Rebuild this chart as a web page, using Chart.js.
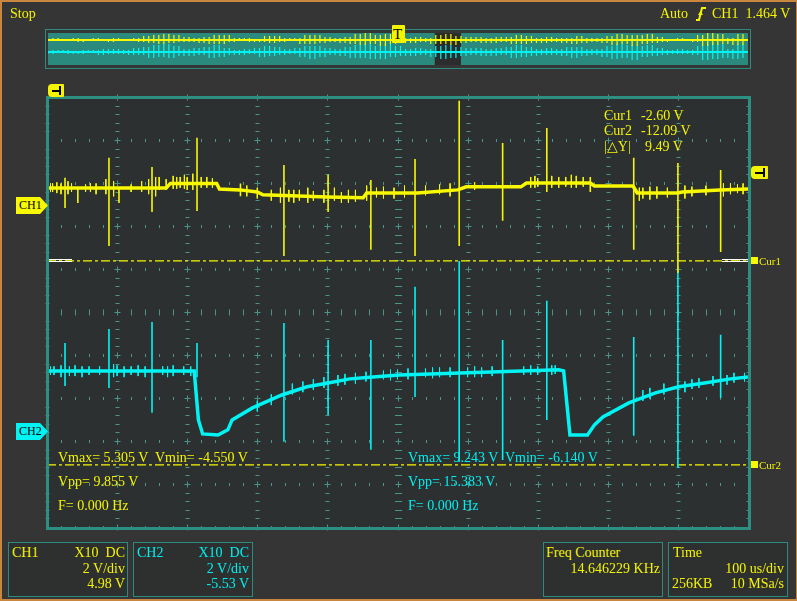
<!DOCTYPE html>
<html>
<head>
<meta charset="utf-8">
<title>Scope capture</title>
<script src="https://cdn.jsdelivr.net/npm/chart.js@4.4.0/dist/chart.umd.min.js"></script>
<style>
    body { margin: 0; background: #353535; }
    #scope { position: relative; width: 797px; height: 601px; overflow: hidden; background: #353535; }
    #scope canvas { position: absolute; }
    .t { position: absolute; font-family: "Liberation Serif", "Times New Roman", serif; font-size: 14px;
         line-height: 16px; white-space: pre; color: #f4f400; }
    .c { color: #00f0f0; }
    .r { text-align: right; }
    .box { position: absolute; border: 1px solid #2c8a7e; box-sizing: border-box; background: #2e3030; }
    .frame { position: absolute; left: 0; top: 0; width: 797px; height: 601px; box-sizing: border-box;
             border: 2px solid #c9863e; border-right-width: 1px; pointer-events: none; }
    .tag { position: absolute; height: 17px; line-height: 17px; font-family: "Liberation Serif", serif;
           font-size: 12px; color: #000; padding-left: 3px; box-sizing: border-box;
           clip-path: polygon(0 0, 75% 0, 100% 50%, 75% 100%, 0 100%); }
    .flag { position: absolute; background: #f4f400; border-radius: 4px 1px 1px 4px; }
</style>
</head>
<body>
<div id="scope">
    <div class="box" style="left:45px;top:29px;width:706px;height:40px;background:#353535;"></div>
    <canvas id="overview" width="700" height="32" style="left:48px;top:33px;background:#2a8a7d;"></canvas>
    <canvas id="main" width="797" height="601" style="left:0;top:0;"></canvas>

    <div class="t" style="left:10px;top:6px;">Stop</div>
    <div class="t" style="left:660px;top:6px;">Auto</div>
    <svg style="position:absolute;left:695px;top:6px;" width="12" height="16" viewBox="0 0 12 16">
        <path d="M1 14 H4 L7 2 H11" stroke="#f4f400" stroke-width="2" fill="none"/>
        <path d="M3 9 L5.5 5 L8 9 Z" fill="#f4f400"/>
    </svg>
    <div class="t" style="left:712px;top:6px;">CH1  1.464 V</div>

    <!-- T marker over the overview strip -->
    <div class="flag" style="left:392px;top:25px;width:13px;height:18px;border-radius:1px;"></div>
    <div class="t" style="left:393px;top:26px;color:#000;font-size:15px;">T</div>

    <div id="overlay"></div>

    <div class="box" style="left:8px;top:542px;width:120px;height:55px;"></div>
    <div class="box" style="left:133px;top:542px;width:120px;height:55px;"></div>
    <div class="box" style="left:543px;top:542px;width:120px;height:55px;"></div>
    <div class="box" style="left:668px;top:542px;width:120px;height:55px;"></div>

    <div class="t" style="left:12px;top:545px;">CH1</div>
    <div class="t r" style="left:40px;width:85px;top:545px;">X10  DC</div>
    <div class="t r" style="left:40px;width:85px;top:561px;">2 V/div</div>
    <div class="t r" style="left:40px;width:85px;top:576px;">4.98 V</div>

    <div class="t c" style="left:137px;top:545px;">CH2</div>
    <div class="t c r" style="left:160px;width:89px;top:545px;">X10  DC</div>
    <div class="t c r" style="left:160px;width:89px;top:561px;">2 V/div</div>
    <div class="t c r" style="left:160px;width:89px;top:576px;">-5.53 V</div>

    <div class="t" style="left:546px;top:545px;">Freq Counter</div>
    <div class="t r" style="left:550px;width:110px;top:561px;">14.646229 KHz</div>

    <div class="t" style="left:673px;top:545px;">Time</div>
    <div class="t r" style="left:680px;width:104px;top:561px;">100 us/div</div>
    <div class="t" style="left:672px;top:576px;">256KB</div>
    <div class="t r" style="left:700px;width:84px;top:576px;">10 MSa/s</div>

    <div class="frame"></div>
</div>

<script>
// volts per division and channel ground offsets (screen volts)
const voltsPerDiv = 2;
const ch1Offset = 4.98;
const ch2Offset = -5.53;
const triggerLevel = 1.464;          // CH1 volts
const cursorLevels = [-2.60, -12.09]; // CH1 volts
const cursorNames = ['Cur1', 'Cur2'];

// time axis (us) and screen volts
const timeTicks = [0, 100, 200, 300, 400, 500, 600, 700, 800, 900, 1000];
const voltTicks = [-10, -8, -6, -4, -2, 0, 2, 4, 6, 8, 10];

// CH1 baseline [t us, V]
const ch1Base = [
    [0, 0.79], [170, 0.79], [176, 1.0], [242, 1.0], [246, 0.74], [275, 0.70], [300, 0.60],
    [308, 0.47], [400, 0.37], [451, 0.33], [456, 0.56], [528, 0.56], [586, 0.70], [598, 0.84],
    [676, 0.84], [684, 1.02], [775, 1.02], [781, 0.88], [836, 0.88], [842, 0.56], [900, 0.56],
    [906, 0.60], [960, 0.70], [1000, 0.74]
];
// CH1 spikes [t us, top V, bottom V]
const ch1Spikes = [
    [25.7, 1.26, -0.14], [44, 0.8, 0.09], [88.4, 2.19, -1.91], [102.7, 0.8, 0.09], [149.8, 1.77, -0.33],
    [214, 3.12, -0.28], [276, 1.0, 0.4], [338, 1.86, -2.37], [401, 1.40, -0.33], [462, 1.16, -2.09],
    [525, 2.14, -2.37], [588, 4.84, -1.91], [650, 2.88, -0.74], [713, 3.58, 0.60], [775, 1.3, 0.6],
    [837, 2.19, -2.09], [900, 1.95, -3.16], [961, 1.63, -2.19]
];
// CH1 small ripple hairs [t us, top V, bottom V]
const ch1Ripple = [
    [5, 1.0, 0.6], [8, 1.0, 0.6], [14, 1.05, 0.55], [20, 1.0, 0.5], [30, 1.1, 0.5], [35, 1.0, 0.6],
    [55, 0.95, 0.6], [62, 1.0, 0.6], [70, 1.0, 0.5], [84, 1.2, 0.5], [95, 1.1, 0.4], [120, 0.95, 0.6],
    [135, 1.1, 0.6], [145, 1.2, 0.5], [155, 1.3, 0.4], [160, 1.3, 0.7], [170, 1.2, 0.7], [180, 1.35, 0.75],
    [185, 1.3, 0.75], [190, 1.3, 0.8], [196, 1.4, 0.75], [200, 1.3, 0.7], [208, 1.45, 0.7], [220, 1.3, 0.8],
    [228, 1.3, 0.8], [236, 1.25, 0.8], [285, 0.9, 0.4], [300, 0.8, 0.3], [320, 0.7, 0.2], [333, 0.8, 0.1],
    [345, 0.7, 0.15], [352, 0.7, 0.1], [360, 0.7, 0.2], [372, 0.8, 0.1], [380, 0.65, 0.2], [395, 0.7, 0.1],
    [410, 0.8, 0.2], [420, 0.6, 0.1], [430, 0.7, 0.1], [440, 0.7, 0.15], [456, 0.9, 0.2], [470, 0.8, 0.35],
    [480, 0.85, 0.3], [495, 0.8, 0.3], [510, 0.9, 0.35], [540, 0.9, 0.45], [560, 0.95, 0.5], [575, 1.0, 0.4],
    [610, 1.05, 0.7], [690, 1.3, 0.8], [696, 1.35, 0.8], [700, 1.25, 0.85], [720, 1.35, 0.8], [730, 1.3, 0.8],
    [740, 1.3, 0.85], [748, 1.4, 0.8], [755, 1.35, 0.8], [765, 1.3, 0.85], [845, 0.8, 0.2], [850, 0.8, 0.3],
    [860, 0.85, 0.25], [870, 0.85, 0.3], [885, 0.8, 0.35], [910, 0.9, 0.3], [920, 0.85, 0.4], [940, 0.9, 0.45],
    [965, 1.0, 0.4], [975, 1.0, 0.5], [985, 0.95, 0.55], [993, 1.0, 0.5]
];

// CH2 baseline [t us, V]
const ch2Base = [
    [0, 2.79], [210, 2.79], [216, 0.51], [222, -0.14], [244, -0.19], [258, 0.05], [264, 0.51],
    [293, 1.07], [335, 1.67], [371, 2.05], [401, 2.23], [432, 2.42], [465, 2.51], [503, 2.60],
    [600, 2.70], [730, 2.84], [737, 2.79], [746, -0.19], [771, -0.19], [781, 0.28], [793, 0.65],
    [830, 1.30], [868, 1.77], [901, 2.05], [938, 2.23], [975, 2.42], [1000, 2.51]
];
// CH2 spikes [t us, top V, bottom V]
const ch2Spikes = [
    [25.7, 4.09, 2.09], [88.4, 4.74, 2.0], [149.8, 5.07, 0.84], [214, 4.09, 2.5], [338, 5.02, -0.51],
    [401, 4.23, 0.74], [462, 4.23, -0.88], [525, 6.70, 1.58], [588, 7.90, -1.44], [650, 4.23, -1.35],
    [713, 6.05, 0.51], [837, 4.37, -0.23], [900, 7.40, -1.72], [961, 4.47, 1.53]
];
const ch2Ripple = [
    [5, 3.0, 2.6], [10, 3.0, 2.6], [20, 3.05, 2.5], [32, 3.0, 2.55], [40, 3.05, 2.55], [50, 3.0, 2.5],
    [60, 3.0, 2.6], [75, 3.0, 2.6], [95, 3.1, 2.5], [100, 3.05, 2.55], [110, 3.0, 2.5], [120, 3.0, 2.6],
    [130, 3.05, 2.55], [140, 3.0, 2.5], [165, 3.0, 2.6], [172, 3.0, 2.5], [180, 3.05, 2.55], [195, 3.0, 2.6],
    [205, 3.0, 2.55], [300, 1.4, 0.9], [320, 1.7, 1.2], [350, 2.2, 1.7], [365, 2.3, 1.8], [380, 2.4, 1.9],
    [395, 2.5, 2.0], [415, 2.6, 2.1], [425, 2.65, 2.15], [440, 2.7, 2.2], [455, 2.75, 2.3], [480, 2.8, 2.4],
    [490, 2.85, 2.35], [500, 2.85, 2.4], [515, 2.9, 2.4], [540, 2.9, 2.5], [550, 2.95, 2.45], [560, 2.95, 2.5],
    [575, 2.95, 2.5], [600, 2.95, 2.5], [610, 3.0, 2.5], [620, 2.95, 2.5], [635, 3.0, 2.55], [680, 3.0, 2.6],
    [690, 3.05, 2.6], [700, 3.0, 2.6], [720, 3.05, 2.6], [725, 3.05, 2.65], [850, 1.9, 1.4], [860, 2.0, 1.5],
    [880, 2.2, 1.7], [910, 2.3, 1.8], [920, 2.4, 1.95], [930, 2.45, 2.0], [950, 2.55, 2.1], [970, 2.6, 2.15],
    [980, 2.7, 2.25], [995, 2.7, 2.3]
];

// overview strip: signed sample deviations per memory bin
const ovCh1 = [
    1,-1,2,-1,1,-1,2,-2,1,-1, 2,-1,1,-2,2,-1,1,-1,2,-2, 4,-3,5,-4,6,-3,5,-2,3,-2,
    2,-3,3,-4,5,-4,5,-2,2,-1, 2,-2,1,-2,4,-3,4,-2,2,-1, 2,-4,5,-4,5,-3,3,-2,2,-3,
    3,-4,6,-5,7,-4,5,-6,6,-4, 5,-3,2,-3,3,-2,2,-4,5,-4, 6,-5,4,-3,3,-2,3,-3,2,-3,
    3,-2,3,-4,5,-4,4,-3,2,-3, 3,-2,2,-3,2,-4,4,-3,2,-2, 2,-3,4,-5,6,-4,5,-6,5,-4,
    6,-3,3,-2,1,-1,2,-1,1,-2, 5,-6,7,-5,6,-4,2,-5,6,-5
];
const ovCh2 = [
    1,-2,2,-1,2,-2,1,-2,2,-1, 2,-3,3,-2,3,-2,2,-3,4,-3, 5,-6,7,-5,8,-6,6,-4,3,-4,
    4,-3,5,-6,7,-5,4,-3,2,-3, 3,-2,4,-5,6,-4,5,-3,3,-2, 4,-5,6,-7,6,-5,4,-3,3,-4,
    5,-6,7,-6,8,-7,6,-7,8,-5, 6,-4,3,-4,4,-3,3,-5,6,-7, 7,-6,5,-4,4,-3,4,-4,3,-4,
    4,-3,5,-6,7,-5,5,-4,3,-3, 4,-3,3,-4,5,-6,5,-4,3,-3, 3,-5,6,-7,8,-6,7,-8,6,-5,
    7,-4,4,-3,2,-2,3,-2,2,-3, 6,-8,9,-7,8,-6,3,-7,8,-6
];
const ovWindow = [76.8, 82.0];
const ovCh1Level = 9;
const ovCh2Level = -3;

const YELLOW = '#f8f800';
const CYAN = '#00f4f4';
const TEAL = '#2c8f81';
const TICK = '#4b9489';

function basePoints(base, offset) {
    return base.map(p => ({ x: p[0], y: p[1] + offset }));
}

function spikePoints(spikes, offset) {
    const pts = [];
    spikes.forEach(s => {
        pts.push({ x: s[0], y: s[1] + offset });
        pts.push({ x: s[0], y: s[2] + offset });
        pts.push({ x: s[0], y: null });
    });
    return pts;
}

function lineSet(data, color, width, dash) {
    return {
        data: data,
        borderColor: color,
        borderWidth: width,
        borderDash: dash || [],
        pointRadius: 0,
        tension: 0,
        fill: false,
        spanGaps: false
    };
}

// scope graticule drawn from the chart's own scales
const graticule = {
    id: 'graticule',
    beforeDatasetsDraw(chart) {
        const ctx = chart.ctx;
        const xs = chart.scales.x;
        const ys = chart.scales.y;
        const area = chart.chartArea;
        ctx.save();
        ctx.fillStyle = '#2c3030';
        ctx.fillRect(area.left, area.top, area.right - area.left, area.bottom - area.top);
        ctx.strokeStyle = TICK;
        ctx.lineWidth = 1;
        ctx.beginPath();
        // ticks along horizontal division lines
        voltTicks.forEach(v => {
            const py = Math.round(ys.getPixelForValue(v)) + 0.5;
            const len = v === 0 ? 3 : 1.5;
            for (let t = 20; t < 1000; t += 20) {
                const px = Math.round(xs.getPixelForValue(t)) + 0.5;
                if (t % 100 === 0) {
                    ctx.moveTo(px - 3, py); ctx.lineTo(px + 3, py);
                    ctx.moveTo(px, py - 3); ctx.lineTo(px, py + 3);
                } else {
                    ctx.moveTo(px, py - len); ctx.lineTo(px, py + len);
                }
            }
        });
        // ticks along vertical division lines
        timeTicks.forEach(t => {
            const px = Math.round(xs.getPixelForValue(t)) + 0.5;
            const len = t === 500 ? 3.5 : 2;
            for (let v = -9.6; v < 10; v += 0.4) {
                const r = Math.round(v * 10) / 10;
                if (Math.abs(r % 2) < 0.01) continue;
                const py = Math.round(ys.getPixelForValue(r)) + 0.5;
                ctx.moveTo(px - len, py); ctx.lineTo(px + len, py);
            }
        });
        ctx.stroke();
        ctx.restore();
    },
    afterDatasetsDraw(chart) {
        const ctx = chart.ctx;
        const area = chart.chartArea;
        ctx.save();
        ctx.strokeStyle = TEAL;
        ctx.lineWidth = 3;
        ctx.strokeRect(area.left + 0.5, area.top + 0.5, area.right - area.left + 1, area.bottom - area.top + 1);
        ctx.restore();
    }
};

const cursorSets = cursorLevels.map(c => lineSet(
    [{ x: 0, y: c + ch1Offset }, { x: 1000, y: c + ch1Offset }], YELLOW, 1.3, [9, 3, 3, 3]));

const mainChart = new Chart(document.getElementById('main').getContext('2d'), {
    type: 'line',
    data: {
        datasets: [
            lineSet(spikePoints(ch1Spikes, ch1Offset), YELLOW, 1.6),
            lineSet(spikePoints(ch1Ripple, ch1Offset), YELLOW, 1),
            lineSet(basePoints(ch1Base, ch1Offset), YELLOW, 3.5),
            lineSet(spikePoints(ch2Spikes, ch2Offset), CYAN, 1.6),
            lineSet(spikePoints(ch2Ripple, ch2Offset), CYAN, 1),
            lineSet(basePoints(ch2Base, ch2Offset), CYAN, 3.5)
        ].concat(cursorSets)
    },
    options: {
        responsive: false,
        animation: false,
        layout: { padding: { left: 47, right: 49, top: 97, bottom: 74 } },
        scales: {
            x: { type: 'linear', min: 0, max: 1000, display: false },
            y: { type: 'linear', min: -5 * voltsPerDiv, max: 5 * voltsPerDiv, display: false }
        },
        plugins: { legend: { display: false }, tooltip: { enabled: false } }
    },
    plugins: [graticule]
});

// overview (memory) strip: each bin is a hair between two neighbouring samples
function ovHairs(values, level) {
    const pts = [];
    for (let i = 0; i < values.length - 1; i++) {
        pts.push({ x: i, y: values[i] + level });
        pts.push({ x: i, y: values[i + 1] + level });
        pts.push({ x: i, y: null });
    }
    return pts;
}
function ovLevel(values, level) {
    return [{ x: 0, y: level }, { x: values.length - 1, y: level }];
}

const ovBackdrop = {
    id: 'ovBackdrop',
    beforeDatasetsDraw(chart) {
        const ctx = chart.ctx;
        const xs = chart.scales.x;
        const area = chart.chartArea;
        const x0 = xs.getPixelForValue(ovWindow[0]);
        const x1 = xs.getPixelForValue(ovWindow[1]);
        ctx.save();
        ctx.fillStyle = '#2b2d2d';
        ctx.fillRect(x0, area.top, x1 - x0, area.bottom - area.top);
        ctx.restore();
    }
};

new Chart(document.getElementById('overview').getContext('2d'), {
    type: 'line',
    data: {
        datasets: [
            lineSet(ovHairs(ovCh1, ovCh1Level), YELLOW, 1.2),
            lineSet(ovLevel(ovCh1, ovCh1Level), YELLOW, 2),
            lineSet(ovHairs(ovCh2, ovCh2Level), CYAN, 1.2),
            lineSet(ovLevel(ovCh2, ovCh2Level), CYAN, 2)
        ]
    },
    options: {
        responsive: false,
        animation: false,
        layout: { padding: 0 },
        scales: {
            x: { type: 'linear', min: 0, max: ovCh1.length - 1, display: false },
            y: { type: 'linear', min: -16, max: 16, display: false }
        },
        plugins: { legend: { display: false }, tooltip: { enabled: false } }
    },
    plugins: [ovBackdrop]
});

// markers and readouts placed from the main chart's scales
const ys = mainChart.scales.y;
const xs = mainChart.scales.x;
const overlay = document.getElementById('overlay');
function addHtml(html) { overlay.insertAdjacentHTML('beforeend', html); }

const ch1Y = ys.getPixelForValue(ch1Offset);
const ch2Y = ys.getPixelForValue(ch2Offset);
addHtml(`<div class="tag" style="left:16px;top:${ch1Y - 8}px;width:32px;background:${YELLOW};">CH1</div>`);
addHtml(`<div class="tag" style="left:16px;top:${ch2Y - 8}px;width:32px;background:${CYAN};">CH2</div>`);

// trigger level marker on the right edge, trigger position flag at top left
const trigY = ys.getPixelForValue(triggerLevel + ch1Offset);
const right = mainChart.chartArea.right;
addHtml(`<div class="flag" style="left:${right + 3}px;top:${trigY - 7}px;width:17px;height:13px;"></div>`);
addHtml(`<div style="position:absolute;left:${right + 7}px;top:${trigY - 1}px;width:8px;height:2px;background:#000;"></div>`);
addHtml(`<div style="position:absolute;left:${right + 15}px;top:${trigY - 5}px;width:2px;height:9px;background:#000;"></div>`);
addHtml(`<div class="flag" style="left:48px;top:84px;width:16px;height:13px;"></div>`);
addHtml(`<div style="position:absolute;left:52px;top:90px;width:8px;height:2px;background:#000;"></div>`);
addHtml(`<div style="position:absolute;left:59px;top:86px;width:2px;height:9px;background:#000;"></div>`);

cursorLevels.forEach((c, i) => {
    const py = ys.getPixelForValue(c + ch1Offset);
    addHtml(`<div style="position:absolute;left:${right + 3}px;top:${py - 3.5}px;width:7px;height:7px;background:${YELLOW};"></div>`);
    addHtml(`<div class="t" style="left:${right + 11}px;top:${py - 7}px;font-size:11px;line-height:14px;">${cursorNames[i]}</div>`);
    if (i === 0) {
        const l = xs.getPixelForValue(0);
        const endL = xs.getPixelForValue(35);
        const startR = xs.getPixelForValue(963);
        addHtml(`<div style="position:absolute;left:${l + 2}px;top:${py - 1.5}px;width:${endL - l - 2}px;height:1px;border:1px solid #fff;border-left:none;border-right:none;"></div>`);
        addHtml(`<div style="position:absolute;left:${startR}px;top:${py - 1.5}px;width:${right - startR}px;height:1px;border:1px solid #fff;border-left:none;border-right:none;"></div>`);
    }
});

// cursor readout
const dY = Math.abs(cursorLevels[0] - cursorLevels[1]);
addHtml(`<div class="t" style="left:604px;top:108px;">Cur1</div><div class="t" style="left:641px;top:108px;">${cursorLevels[0].toFixed(2)} V</div>`);
addHtml(`<div class="t" style="left:604px;top:123px;">Cur2</div><div class="t" style="left:641px;top:123px;">${cursorLevels[1].toFixed(2)} V</div>`);
addHtml(`<div class="t" style="left:604px;top:139px;">|△Y|</div><div class="t" style="left:645px;top:139px;">${dY.toFixed(2)} V</div>`);

// measurements
addHtml(`<div class="t" style="left:58px;top:450px;">Vmax= 5.305 V  Vmin= -4.550 V</div>`);
addHtml(`<div class="t" style="left:58px;top:474px;">Vpp= 9.855 V</div>`);
addHtml(`<div class="t" style="left:58px;top:498px;">F= 0.000 Hz</div>`);
addHtml(`<div class="t c" style="left:408px;top:450px;">Vmax= 9.243 V  Vmin= -6.140 V</div>`);
addHtml(`<div class="t c" style="left:408px;top:474px;">Vpp= 15.383 V</div>`);
addHtml(`<div class="t c" style="left:408px;top:498px;">F= 0.000 Hz</div>`);
</script>
</body>
</html>
